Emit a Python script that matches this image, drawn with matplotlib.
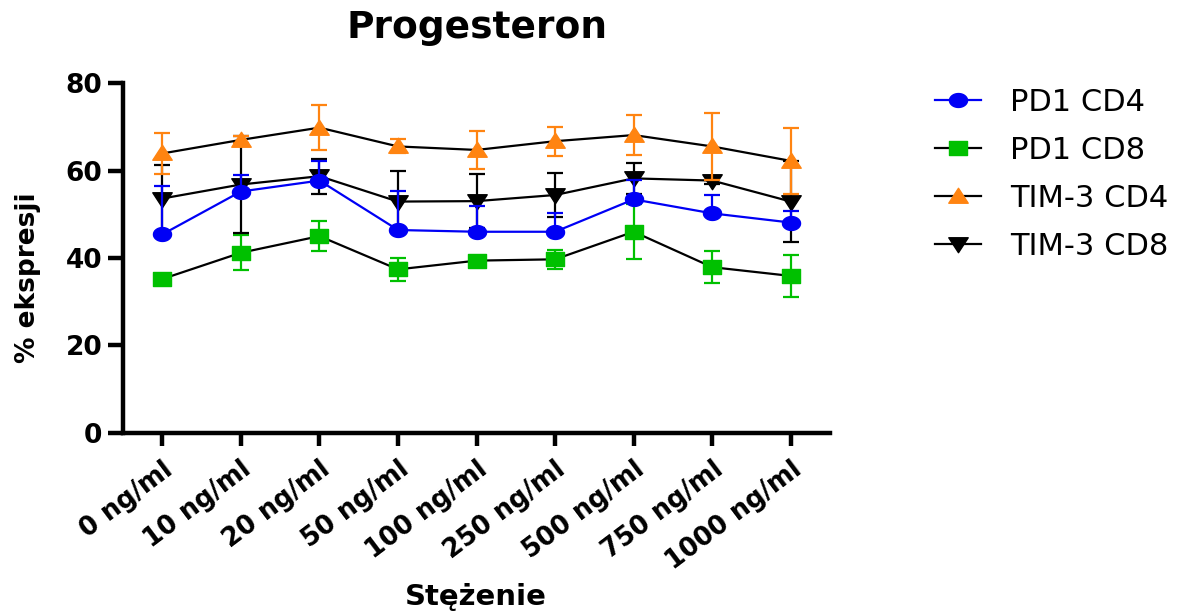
import numpy as np
import matplotlib
matplotlib.use("Agg")
import matplotlib.pyplot as plt
from matplotlib.path import Path
from matplotlib.lines import Line2D

plt.rcParams['font.family'] = ['DejaVu Sans']

# stężenia progesteronu
stezenia = ['0 ng/ml', '10 ng/ml', '20 ng/ml', '50 ng/ml', '100 ng/ml',
            '250 ng/ml', '500 ng/ml', '750 ng/ml', '1000 ng/ml']

# % ekspresji (średnia) i błąd
pd1_cd4 = [45.4, 55.2, 57.7, 46.4, 46.0, 46.0, 53.4, 50.2, 48.1]
pd1_cd4_err = [11.1, 3.8, 4.5, 9.0, 5.9, 4.4, 4.4, 4.2, 2.7]
pd1_cd8 = [35.2, 41.2, 45.0, 37.4, 39.4, 39.7, 46.0, 37.9, 35.9]
pd1_cd8_err = [0.5, 4.0, 3.5, 2.6, 0.8, 2.2, 6.3, 3.7, 4.7]
tim3_cd4 = [63.9, 67.0, 69.8, 65.5, 64.7, 66.7, 68.1, 65.5, 62.2]
tim3_cd4_err = [4.7, 0.8, 5.2, 1.6, 4.3, 3.3, 4.6, 7.7, 7.6]
tim3_cd8 = [53.6, 56.8, 58.7, 52.9, 53.0, 54.4, 58.2, 57.7, 52.9]
tim3_cd8_err = [7.7, 11.0, 4.0, 7.0, 6.1, 5.0, 3.6, 0.8, 9.3]

BLUE = '#0000f5'
GREEN = '#00c000'
ORANGE = '#ff8411'
BLACK = '#000000'


# markery lekko rozciągnięte w poziomie
def ellipse(sx=1.3, sy=1.0, n=48):
    t = np.linspace(0, 2 * np.pi, n, endpoint=False)
    verts = np.column_stack([sx * np.cos(t), sy * np.sin(t)])
    return Path(np.vstack([verts, verts[:1]]), closed=True)


def poly(pts):
    pts = np.array(pts + [pts[0]], dtype=float)
    return Path(pts, closed=True)


m_circle = ellipse()
m_square = poly([(-1.3, -1.0), (1.3, -1.0), (1.3, 1.0), (-1.3, 1.0)])
m_tri_up = poly([(-1.3, -0.9), (1.3, -0.9), (0.0, 1.1)])
m_tri_down = poly([(-1.3, 0.9), (1.3, 0.9), (0.0, -1.1)])

fig = plt.figure(figsize=(11.98, 6.14), dpi=100)
ax = fig.add_axes([0.1027, 0.2948, 0.5902, 0.5700])

x = np.arange(len(stezenia))
zero = np.zeros(len(x))

series = [
    # nazwa, wartości, błąd (dół, góra), kolor markera, kolor linii, marker, rozmiar, z
    ('PD1 CD8', pd1_cd8, [pd1_cd8_err, pd1_cd8_err], GREEN, BLACK, m_square, 13, 2),
    ('TIM-3 CD8', tim3_cd8, [tim3_cd8_err, tim3_cd8_err], BLACK, BLACK, m_tri_down, 14, 3),
    ('TIM-3 CD4', tim3_cd4, [tim3_cd4_err, tim3_cd4_err], ORANGE, BLACK, m_tri_up, 14, 4),
    ('PD1 CD4', pd1_cd4, [zero, pd1_cd4_err], BLUE, BLUE, m_circle, 13, 5),
]

for name, vals, err, mcol, lcol, mk, ms, z in series:
    ax.errorbar(x, vals, yerr=err, fmt='none', ecolor=mcol, elinewidth=1.6,
                capsize=6, capthick=1.6, zorder=z)
    ax.plot(x, vals, color=lcol, lw=1.6, zorder=z + 0.1)
    ax.plot(x, vals, ls='none', marker=mk, ms=ms, color=mcol, mec=mcol,
            zorder=z + 0.2)

ax.set_xlim(-0.5, 8.5)
ax.set_ylim(0, 80)
ax.set_yticks([0, 20, 40, 60, 80])
ax.set_xticks(x)
ax.set_xticklabels(stezenia, rotation=37, ha='right', va='top',
                   rotation_mode='anchor', fontsize=18.5, fontweight='bold')
for lab in ax.get_yticklabels():
    lab.set_fontsize(19)
    lab.set_fontweight('bold')

for s in ['top', 'right']:
    ax.spines[s].set_visible(False)
for s in ['left', 'bottom']:
    ax.spines[s].set_linewidth(3.2)
    ax.spines[s].set_capstyle('projecting')
ax.tick_params(axis='y', length=11, width=3.2, pad=4)
ax.tick_params(axis='x', length=9, width=3.2, pad=8)

fig.text(28 / 1198, 1 - 278 / 614, '% ekspresji', fontsize=19,
         fontweight='bold', rotation=90, ha='center', va='center')
fig.text(476 / 1198, 1 - 597 / 614, 'Stężenie', fontsize=21,
         fontweight='bold', ha='center', va='center')
fig.text(477 / 1198, 1 - 28 / 614, 'Progesteron', fontsize=27,
         fontweight='bold', ha='center', va='center')

handles = []
labels = []
for name in ['PD1 CD4', 'PD1 CD8', 'TIM-3 CD4', 'TIM-3 CD8']:
    for n, vals, err, mcol, lcol, mk, ms, z in series:
        if n == name:
            handles.append(Line2D([], [], color=lcol, lw=1.6, marker=mk,
                                  ms=ms, mfc=mcol, mec=mcol))
            labels.append(name)

fig.legend(handles, labels, loc='upper left',
           bbox_to_anchor=(935 / 1198, 1 - 88 / 614), frameon=False,
           fontsize=22, handlelength=1.5, handletextpad=0.95,
           labelspacing=0.62, borderaxespad=0, borderpad=0)

fig.savefig('out.png', dpi=100)
